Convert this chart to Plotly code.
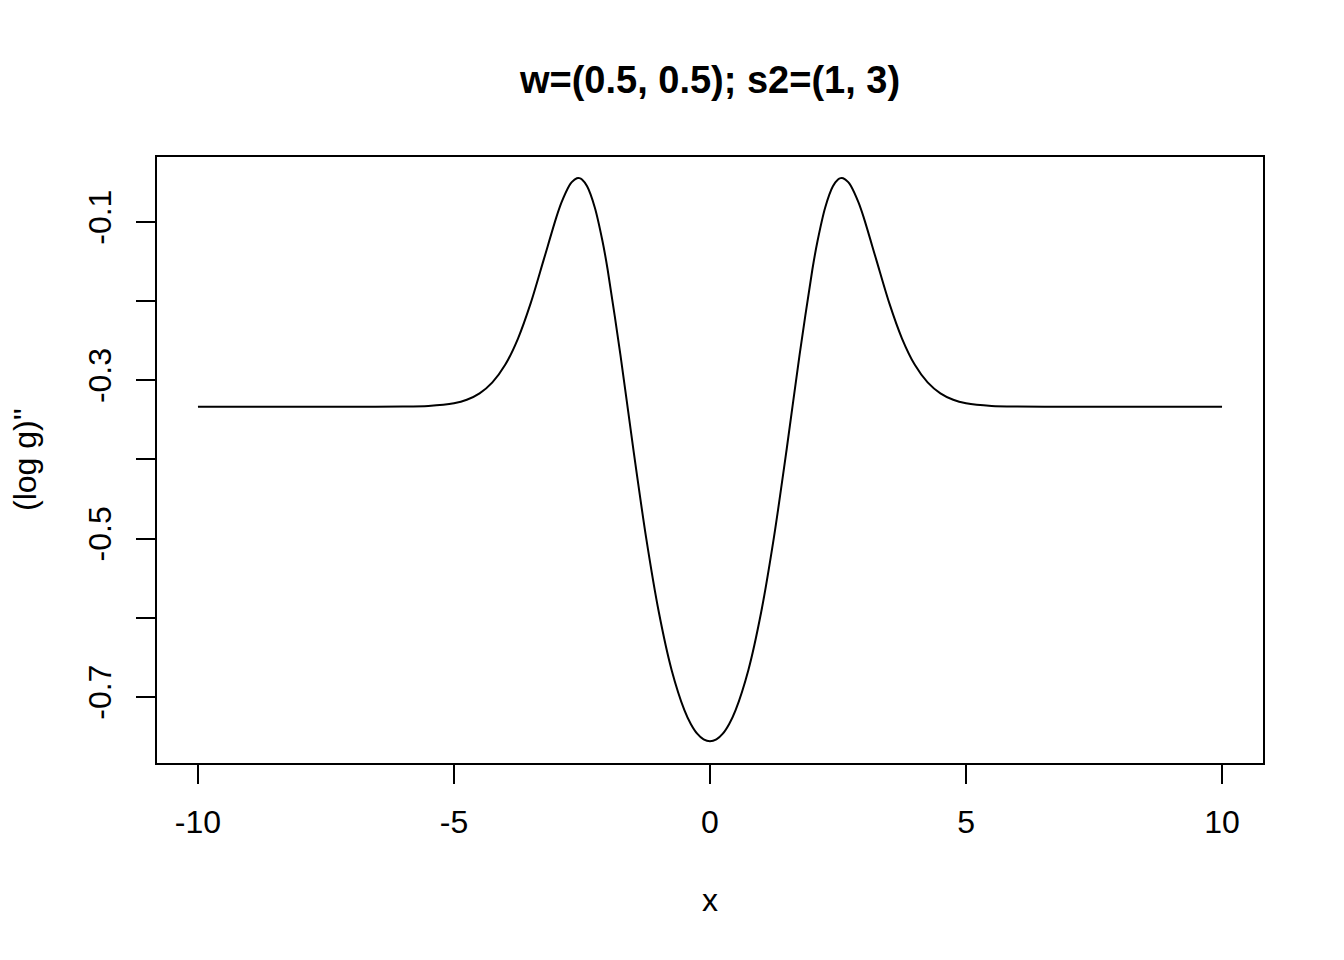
import plotly.graph_objects as go

# Curve values: (log g)'' vs x
x_vals = [-10, -9, -8, -7, -6, -5.5, -5, -4.75, -4.5, -4.25, -4, -3.75, -3.5, -3.25, -3, -2.9,
          -2.75, -2.7, -2.6, -2.55, -2.5, -2.4, -2.25, -2.1, -2, -1.75, -1.5, -1.25, -1, -0.75, -0.5,
          -0.375, -0.25, -0.125,
          0,
          0.125, 0.25, 0.375,
          0.5, 0.75, 1, 1.25, 1.5, 1.75, 2, 2.1, 2.25, 2.4, 2.5, 2.55, 2.6, 2.7, 2.75,
          2.9, 3, 3.25, 3.5, 3.75, 4, 4.25, 4.5, 4.75, 5, 5.5, 6, 7, 8, 9, 10]
y_vals = [-0.3333, -0.3333, -0.3333, -0.3333, -0.3332, -0.3324, -0.3290, -0.3246, -0.3165, -0.3026,
          -0.2804, -0.2472, -0.2022, -0.1482, -0.0939, -0.0753,
          -0.0542, -0.0496, -0.0447, -0.0446, -0.0462, -0.0549, -0.0816, -0.1240, -0.1597, -0.2675,
          -0.3858, -0.4978, -0.5927, -0.6658, -0.7166,
          -0.7340, -0.7463, -0.7536,
          -0.7560,
          -0.7536, -0.7463, -0.7340,
          -0.7166, -0.6658, -0.5927, -0.4978, -0.3858, -0.2675, -0.1597, -0.1240, -0.0816,
          -0.0549, -0.0462, -0.0446, -0.0447, -0.0496, -0.0542,
          -0.0753, -0.0939, -0.1482, -0.2022, -0.2472, -0.2804,
          -0.3026, -0.3165, -0.3246, -0.3290, -0.3324, -0.3332, -0.3333, -0.3333, -0.3333, -0.3333]

x_ticks = [-10, -5, 0, 5, 10]
y_ticks = [-0.7, -0.6, -0.5, -0.4, -0.3, -0.2, -0.1]
y_ticktext = ["-0.7", "", "-0.5", "", "-0.3", "", "-0.1"]

title_text = "w=(0.5, 0.5); s2=(1, 3)"
x_label = "x"
y_label = "(log g)''"

FONT = "Liberation Sans, Arial, sans-serif"

W, H = 1336, 952  # page body has an 8px margin

fig = go.Figure()
fig.add_trace(go.Scatter(x=x_vals, y=y_vals, mode="lines",
                         line=dict(color="black", width=2, shape="spline", smoothing=0.8),
                         showlegend=False))

fig.update_layout(
    width=W, height=H,
    paper_bgcolor="white", plot_bgcolor="white",
    margin=dict(l=149, r=81, t=149, b=197),
    font=dict(family=FONT, color="black", size=32),
    title=dict(text="<b>" + title_text + "</b>", x=702 / W, xanchor="center",
               y=1 - 72 / H, yref="container", yanchor="middle",
               font=dict(family=FONT, size=38, color="black")),
    annotations=[
        dict(text=x_label, xref="paper", yref="paper", x=0.5, y=-137 / 606,
             xanchor="center", yanchor="middle", showarrow=False,
             font=dict(family=FONT, size=32, color="black")),
        dict(text=y_label, xref="paper", yref="paper", x=-132 / 1106, y=0.5,
             xanchor="center", yanchor="middle", showarrow=False, textangle=-90,
             font=dict(family=FONT, size=32, color="black")),
    ],
)
fig.update_xaxes(range=[-10.8, 10.8], tickvals=x_ticks, ticktext=[str(v) for v in x_ticks],
                 showgrid=False, zeroline=False, showline=True, linecolor="black", linewidth=2,
                 mirror=True, ticks="outside", ticklen=19, tickwidth=2, tickcolor="black",
                 ticklabelstandoff=11,
                 tickfont=dict(family=FONT, size=32, color="black"))
fig.update_yaxes(range=[-0.7834, -0.0179], tickvals=y_ticks, ticktext=y_ticktext,
                 showgrid=False, zeroline=False, showline=True, linecolor="black", linewidth=2,
                 mirror=True, ticks="outside", ticklen=19, tickwidth=2, tickcolor="black",
                 tickangle=-90, ticklabelstandoff=12,
                 tickfont=dict(family=FONT, size=32, color="black"))

fig.write_html("out.html")
